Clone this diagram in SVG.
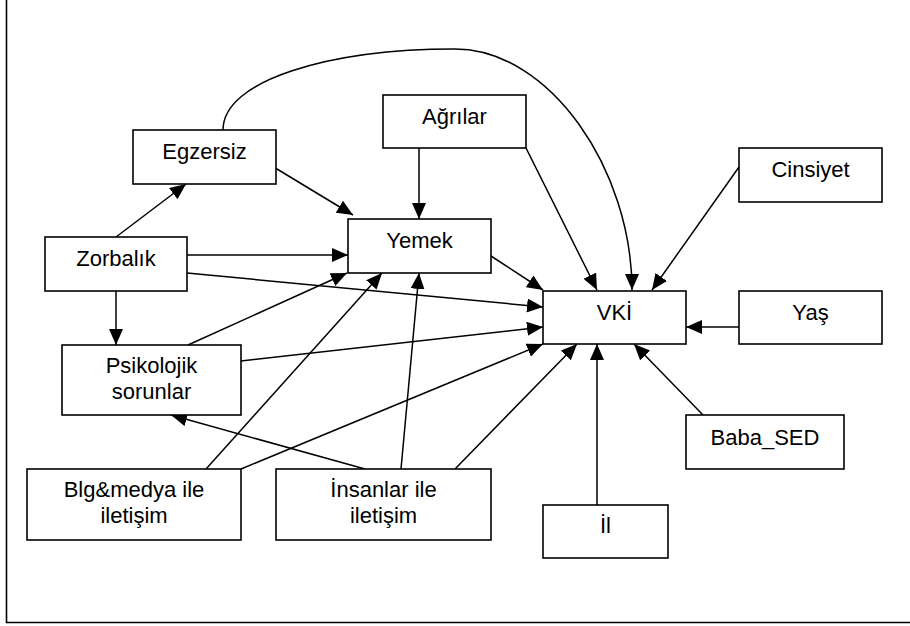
<svg xmlns="http://www.w3.org/2000/svg" width="910" height="626" viewBox="0 0 910 626">
  <defs>
    <marker id="arrow" markerUnits="userSpaceOnUse" markerWidth="16" markerHeight="14" refX="16" refY="7" orient="auto">
      <path d="M0,0 L16,7 L0,14 Z" fill="#000"/>
    </marker>
    <style>
      .box { fill: #fff; stroke: #000; stroke-width: 1.6; }
      .lbl { font-family: "Liberation Sans", Arial, sans-serif; font-size: 22px; fill: #000; text-anchor: middle; }
      .edge { fill: none; stroke: #000; stroke-width: 1.5; marker-end: url(#arrow); }
      .frame { fill: none; stroke: #000; stroke-width: 1.6; }
    </style>
  </defs>
  <rect width="910" height="626" fill="#fff"/>

  <!-- page frame (left and bottom edges) -->
  <path class="frame" d="M6.5,0 V622.5 H910"/>

  <!-- connectors -->
  <g id="connectors">
    <line class="edge" x1="116" y1="237" x2="186" y2="184"/>
    <line class="edge" x1="272" y1="166" x2="353" y2="215"/>
    <line class="edge" x1="419" y1="148" x2="419" y2="219"/>
    <line class="edge" x1="187" y1="255" x2="348" y2="255"/>
    <line class="edge" x1="187" y1="273" x2="543" y2="307"/>
    <line class="edge" x1="116" y1="291" x2="116" y2="345"/>
    <line class="edge" x1="188" y1="345" x2="347" y2="273"/>
    <line class="edge" x1="206" y1="469" x2="382" y2="273"/>
    <line class="edge" x1="401" y1="469" x2="419" y2="273"/>
    <line class="edge" x1="241" y1="361" x2="543" y2="327"/>
    <line class="edge" x1="241" y1="469" x2="543" y2="344"/>
    <line class="edge" x1="365" y1="469" x2="171" y2="415"/>
    <line class="edge" x1="455" y1="469" x2="577" y2="344"/>
    <line class="edge" x1="491" y1="256" x2="543" y2="290"/>
    <line class="edge" x1="526" y1="148" x2="597" y2="290"/>
    <path class="edge" d="M223,130 C223,80 330,49 455,49 C550,49 632,170 632,290"/>
    <line class="edge" x1="739" y1="167" x2="652" y2="290"/>
    <line class="edge" x1="739" y1="327" x2="686" y2="327"/>
    <line class="edge" x1="597" y1="505" x2="597" y2="344"/>
    <line class="edge" x1="703" y1="415" x2="634" y2="344"/>
  </g>

  <!-- nodes -->
  <g id="egzersiz">
    <rect class="box" x="133" y="130" width="143" height="54"/>
    <text class="lbl" x="204.5" y="159">Egzersiz</text>
  </g>
  <g id="zorbalik">
    <rect class="box" x="45" y="237" width="142" height="54"/>
    <text class="lbl" x="116" y="266">Zorbalık</text>
  </g>
  <g id="yemek">
    <rect class="box" x="348" y="219" width="143" height="54"/>
    <text class="lbl" x="419.5" y="248">Yemek</text>
  </g>
  <g id="agrilar">
    <rect class="box" x="383" y="95" width="143" height="53"/>
    <text class="lbl" x="454.5" y="124">Ağrılar</text>
  </g>
  <g id="cinsiyet">
    <rect class="box" x="739" y="148" width="143" height="54"/>
    <text class="lbl" x="810.5" y="177">Cinsiyet</text>
  </g>
  <g id="vki">
    <rect class="box" x="543" y="291" width="143" height="53"/>
    <text class="lbl" x="614.5" y="320">VKİ</text>
  </g>
  <g id="yas">
    <rect class="box" x="739" y="291" width="143" height="53"/>
    <text class="lbl" x="810.5" y="320">Yaş</text>
  </g>
  <g id="psikolojik">
    <rect class="box" x="62" y="345" width="179" height="70"/>
    <text class="lbl" x="151.5" y="373">Psikolojik</text>
    <text class="lbl" x="151.5" y="399">sorunlar</text>
  </g>
  <g id="blg-medya">
    <rect class="box" x="27" y="469" width="214" height="71"/>
    <text class="lbl" x="134" y="497">Blg&amp;medya ile</text>
    <text class="lbl" x="134" y="523">iletişim</text>
  </g>
  <g id="insanlar">
    <rect class="box" x="276" y="469" width="215" height="71"/>
    <text class="lbl" x="383.5" y="497">İnsanlar ile</text>
    <text class="lbl" x="383.5" y="523">iletişim</text>
  </g>
  <g id="baba-sed">
    <rect class="box" x="686" y="415" width="158" height="54"/>
    <text class="lbl" x="765" y="445">Baba_SED</text>
  </g>
  <g id="il">
    <rect class="box" x="543" y="505" width="125" height="53"/>
    <text class="lbl" x="605.5" y="533">İl</text>
  </g>
</svg>
